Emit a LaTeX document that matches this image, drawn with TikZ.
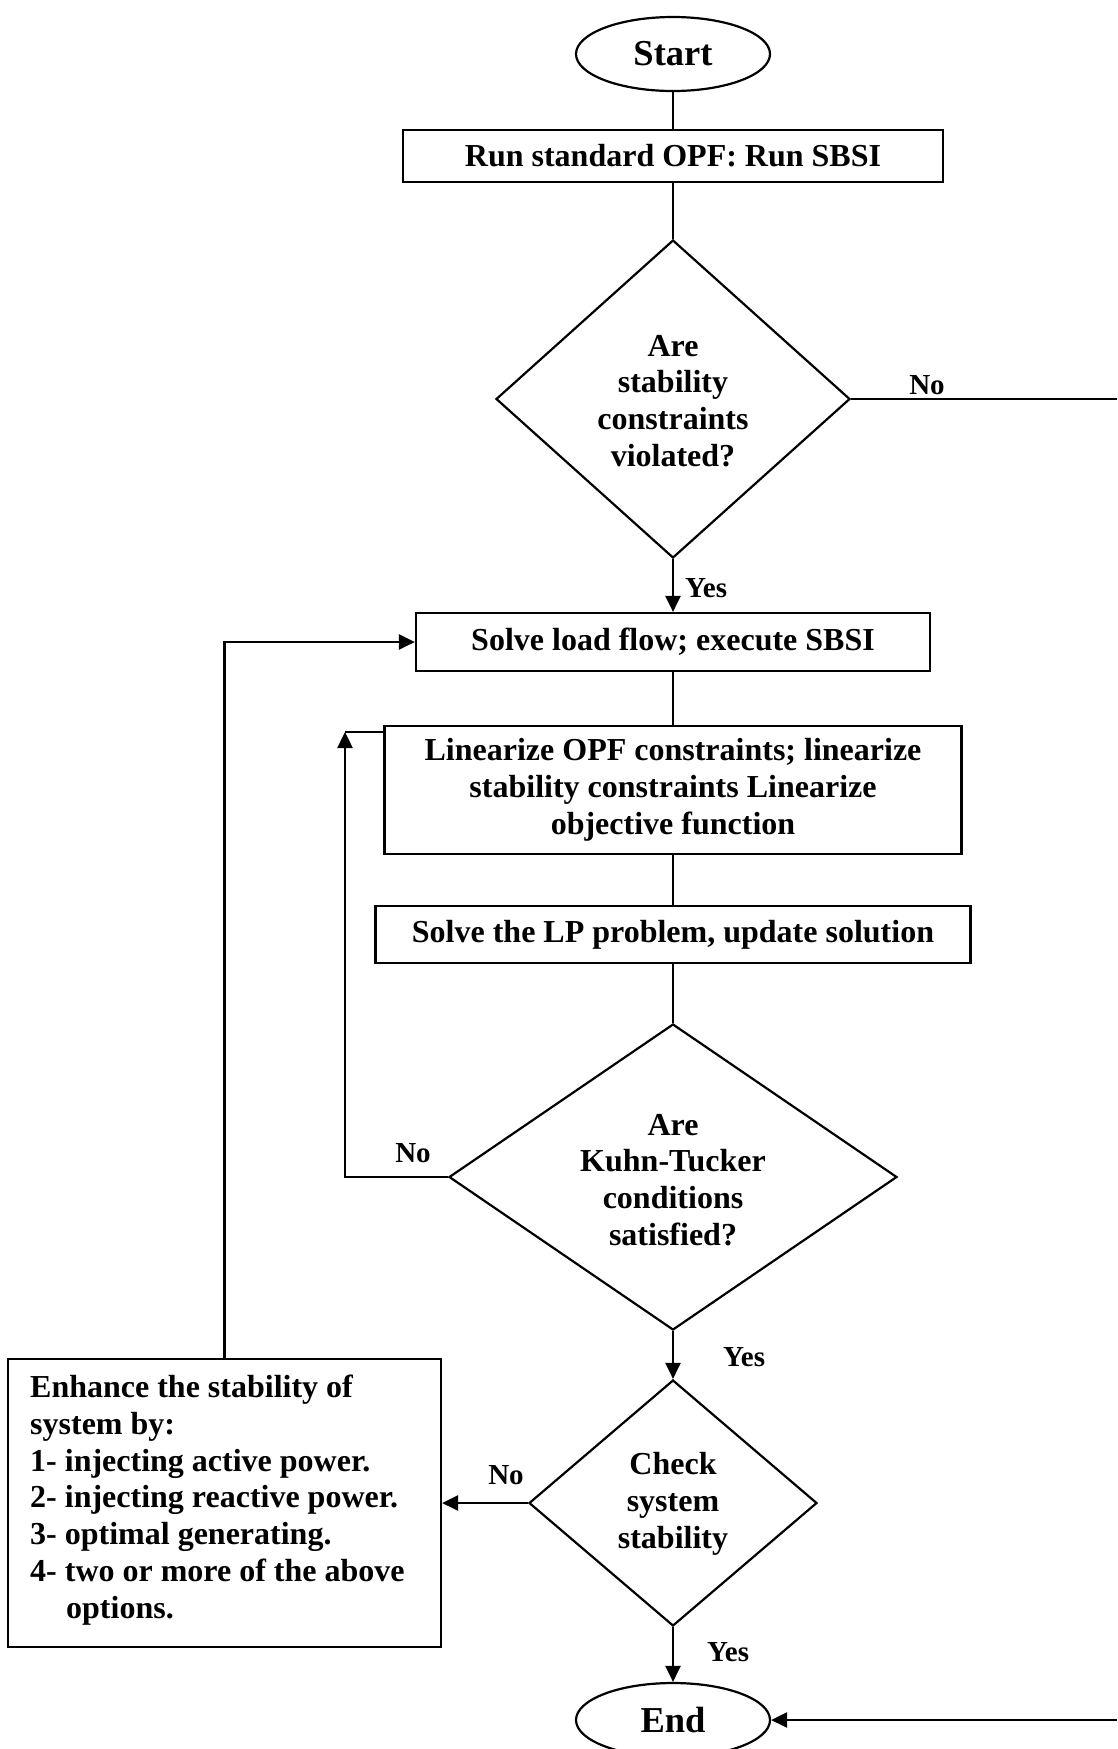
\documentclass[tikz,border=0pt]{standalone}
\usepackage{fontspec}
\setmainfont{Liberation Serif}
\usetikzlibrary{shapes.geometric,arrows.meta}

\begin{document}
\begin{tikzpicture}[x=1pt,y=-1pt,
  every node/.style={font=\bfseries\fontsize{32}{36.8}\selectfont},
  proc/.style={draw, line width=2.2pt, inner sep=0pt, align=center},
  term/.style={draw, ellipse, line width=2.2pt, minimum width=194pt, minimum height=74pt,
               inner sep=0pt, font=\bfseries\fontsize{36.5}{40}\selectfont},
  decide/.style={draw, diamond, line width=2.2pt, inner sep=0pt},
  lbl/.style={font=\bfseries\fontsize{29}{32}\selectfont, inner sep=0pt},
  link/.style={line width=1.6pt},
  flow/.style={line width=2.5pt, -{Triangle[length=16pt,width=15pt]}},
]
\useasboundingbox (0,0) rectangle (1117,1749);

% main column
\node[term] (start) at (673,54) {Start};
\node[proc, minimum width=540pt, minimum height=52pt] (run) at (673,156) {Run standard OPF: Run SBSI};
\node[decide, minimum width=354pt, minimum height=318pt] (d1) at (673,399) {};
\node[align=center] (d1text) at (673,401) {Are\\stability\\constraints\\violated?};
\node[proc, minimum width=514pt, minimum height=58pt] (solve) at (673,642) {Solve load flow; execute SBSI};
\node[proc, minimum width=577pt, minimum height=128pt] (lin) at (673,790)
  {Linearize OPF constraints; linearize\\stability constraints Linearize\\objective function};
\node[proc, minimum width=595pt, minimum height=57pt] (lp) at (673,934.5) {Solve the LP problem, update solution};
\node[decide, minimum width=448pt, minimum height=306pt] (d2) at (673,1177) {};
\node[align=center] (d2text) at (673,1180) {Are\\Kuhn-Tucker\\conditions\\satisfied?};
\node[decide, minimum width=288pt, minimum height=246pt] (d3) at (673,1503) {};
\node[align=center] (d3text) at (673,1504) {Check\\system\\stability};
\node[term] (end) at (673,1720) {End};

% remedial action box and its list
\node[proc, minimum width=433pt, minimum height=288pt] (enh) at (224.5,1503) {};
\node[anchor=west, align=left, inner sep=0pt] (enhtext) at (30,1500)
  {Enhance the stability of\\system by:\\1- injecting active power.\\2- injecting reactive power.\\3- optimal generating.\\4- two or more of the above\\\hspace*{36pt}options.};

% free ends and bends
\coordinate (noEdge) at (1117,399);
\coordinate (endEdge) at (1117,1720);
\coordinate (loopTop) at (345,732);

% connectors
\draw[link] (start.south) -- (run.north);
\draw[link] (run.south) -- (d1.north);
\draw[flow] (d1.south) -- (solve.north);
\draw[link] (d1.east) -- (noEdge);
\draw[link] (solve.south) -- (lin.north);
\draw[link] (lin.south) -- (lp.north);
\draw[link] (lp.south) -- (d2.north);
\draw[flow] (d2.west) -| (loopTop);
\draw[line width=2.2pt] (loopTop) -- (loopTop -| lin.west);
\draw[flow] (d2.south) -- (d3.north);
\draw[flow] (d3.west) -- (enh.east);
\draw[flow] (enh.north) |- (solve.west);
\draw[flow] (d3.south) -- (end.north);
\draw[flow] (endEdge) -- (end.east);

% branch labels
\node[lbl, anchor=west] (yes1) at (685,588) {Yes};
\node[lbl] (no1) at (927,385) {No};
\node[lbl] (no2) at (413,1153) {No};
\node[lbl, anchor=west] (yes2) at (723,1357) {Yes};
\node[lbl] (no3) at (506,1475) {No};
\node[lbl, anchor=west] (yes3) at (707,1652) {Yes};
\end{tikzpicture}
\end{document}
